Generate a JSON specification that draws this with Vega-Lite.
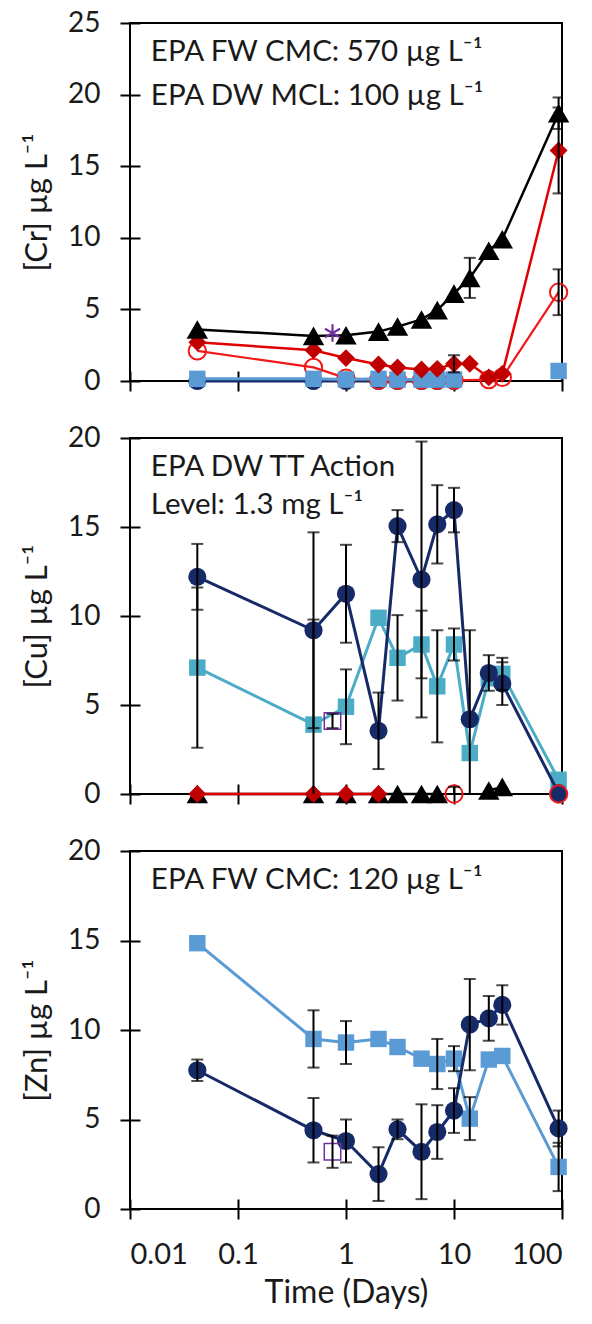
{
  "$schema": "https://vega.github.io/schema/vega-lite/v6.json",
  "padding": {"left": 20, "top": 8, "right": 5, "bottom": 5},
  "background": "white",
  "config": {
    "font": "Lato",
    "view": {"stroke": "#000", "strokeWidth": 2},
    "axis": {
      "domain": false, "grid": false, "ticks": true,
      "tickColor": "#000", "tickWidth": 2, "tickSize": 20, "offset": -10,
      "labelFont": "Lato", "labelFontSize": 28, "labelColor": "#1a1a1a",
      "titleFont": "Lato", "titleFontSize": 31, "titleFontWeight": "normal", "titleColor": "#1a1a1a"
    },
    "axisX": {"labelPadding": 21, "titlePadding": 8, "labelFontSize": 29, "titleFontSize": 32},
    "axisY": {"labelPadding": 20, "titlePadding": 14},
    "text": {"font": "Lato", "fontSize": 29.5, "color": "#1a1a1a", "align": "left", "baseline": "middle"}
  },
  "datasets": {
    "Cr": [
      {"s": "tri", "t": 0.042, "v": 3.6}, {"s": "tri", "t": 0.5, "v": 3.15}, {"s": "tri", "t": 1, "v": 3.2},
      {"s": "tri", "t": 2, "v": 3.45}, {"s": "tri", "t": 3, "v": 3.8}, {"s": "tri", "t": 5, "v": 4.3},
      {"s": "tri", "t": 7, "v": 4.95}, {"s": "tri", "t": 10, "v": 6.1}, {"s": "tri", "t": 14, "v": 7.2, "e": 1.4},
      {"s": "tri", "t": 21, "v": 9.1}, {"s": "tri", "t": 28, "v": 9.9}, {"s": "tri", "t": 93, "v": 18.7, "e": 1.1},
      {"s": "dia", "t": 0.042, "v": 2.7}, {"s": "dia", "t": 0.5, "v": 2.15}, {"s": "dia", "t": 1, "v": 1.6},
      {"s": "dia", "t": 2, "v": 1.15}, {"s": "dia", "t": 3, "v": 0.95}, {"s": "dia", "t": 5, "v": 0.8},
      {"s": "dia", "t": 7, "v": 0.85}, {"s": "dia", "t": 10, "v": 1.2, "e": 0.6}, {"s": "dia", "t": 14, "v": 1.2},
      {"s": "dia", "t": 21, "v": 0.25}, {"s": "dia", "t": 28, "v": 0.5}, {"s": "dia", "t": 93, "v": 16.1, "e": 3.0},
      {"s": "ocirc", "t": 0.042, "v": 2.1}, {"s": "ocirc", "t": 0.5, "v": 0.95}, {"s": "ocirc", "t": 1, "v": 0.2},
      {"s": "ocirc", "t": 2, "v": 0.05}, {"s": "ocirc", "t": 3, "v": 0.05}, {"s": "ocirc", "t": 5, "v": 0.05},
      {"s": "ocirc", "t": 7, "v": 0.05}, {"s": "ocirc", "t": 10, "v": 0.05}, {"s": "ocirc", "t": 21, "v": 0.1},
      {"s": "ocirc", "t": 28, "v": 0.25}, {"s": "ocirc", "t": 93, "v": 6.2, "e": 1.6},
      {"s": "circ", "t": 0.042, "v": 0.0}, {"s": "circ", "t": 0.5, "v": 0.0}, {"s": "circ", "t": 1, "v": 0.0},
      {"s": "circ", "t": 2, "v": 0.0}, {"s": "circ", "t": 3, "v": 0.0}, {"s": "circ", "t": 5, "v": 0.0},
      {"s": "circ", "t": 7, "v": 0.0}, {"s": "circ", "t": 10, "v": 0.0},
      {"s": "sq", "t": 0.042, "v": 0.15}, {"s": "sq", "t": 0.5, "v": 0.15}, {"s": "sq", "t": 1, "v": 0.1},
      {"s": "sq", "t": 2, "v": 0.15}, {"s": "sq", "t": 3, "v": 0.1}, {"s": "sq", "t": 5, "v": 0.1},
      {"s": "sq", "t": 7, "v": 0.1}, {"s": "sq", "t": 10, "v": 0.1}, {"s": "sq", "t": 14, "v": null},
      {"s": "sq", "t": 21, "v": null}, {"s": "sq", "t": 28, "v": null}, {"s": "sq", "t": 93, "v": 0.7},
      {"s": "ref", "t": 0.75, "v": 3.35}
    ],
    "Cu": [
      {"s": "circ", "t": 0.042, "v": 12.2, "e": 1.85}, {"s": "circ", "t": 0.5, "v": 9.2, "e": 5.5},
      {"s": "circ", "t": 1, "v": 11.25, "e": 2.75}, {"s": "circ", "t": 2, "v": 3.55, "e": 2.15},
      {"s": "circ", "t": 3, "v": 15.05, "e": 0.9}, {"s": "circ", "t": 5, "v": 12.05, "e": 7.75},
      {"s": "circ", "t": 7, "v": 15.15, "e": 2.2}, {"s": "circ", "t": 10, "v": 15.95, "e": 1.25},
      {"s": "circ", "t": 14, "v": 4.2, "e": 5.0}, {"s": "circ", "t": 21, "v": 6.8, "e": 1.0},
      {"s": "circ", "t": 28, "v": 6.2, "e": 1.2}, {"s": "circ", "t": 93, "v": 0.05},
      {"s": "sq", "t": 0.042, "v": 7.1, "e": 4.5}, {"s": "sq", "t": 0.5, "v": 3.9, "e": 5.9},
      {"s": "sq", "t": 1, "v": 4.9, "e": 2.1}, {"s": "sq", "t": 2, "v": 9.9},
      {"s": "sq", "t": 3, "v": 7.65, "e": 2.4}, {"s": "sq", "t": 5, "v": 8.4, "e": 1.9},
      {"s": "sq", "t": 7, "v": 6.05, "e": 3.15}, {"s": "sq", "t": 10, "v": 8.4, "e": 0.9},
      {"s": "sq", "t": 14, "v": 2.3}, {"s": "sq", "t": 21, "v": 6.5},
      {"s": "sq", "t": 28, "v": 6.75, "e": 0.9}, {"s": "sq", "t": 93, "v": 0.8},
      {"s": "tri", "t": 0.042, "v": 0}, {"s": "tri", "t": 0.5, "v": 0}, {"s": "tri", "t": 1, "v": 0},
      {"s": "tri", "t": 2, "v": 0}, {"s": "tri", "t": 3, "v": 0}, {"s": "tri", "t": 5, "v": 0},
      {"s": "tri", "t": 7, "v": 0}, {"s": "tri", "t": 10, "v": null}, {"s": "tri", "t": 14, "v": null},
      {"s": "tri", "t": 21, "v": 0.2}, {"s": "tri", "t": 28, "v": 0.4},
      {"s": "dia", "t": 0.042, "v": 0}, {"s": "dia", "t": 0.5, "v": 0}, {"s": "dia", "t": 1, "v": 0},
      {"s": "dia", "t": 2, "v": 0},
      {"s": "ocirc", "t": 10, "v": 0, "e": 0.4}, {"s": "ocirc", "t": 14, "v": null},
      {"s": "ocirc", "t": 93, "v": 0},
      {"s": "ref", "t": 0.75, "v": 4.1, "e": 0.4}
    ],
    "Zn": [
      {"s": "sq", "t": 0.042, "v": 14.85}, {"s": "sq", "t": 0.5, "v": 9.5, "e": 1.6},
      {"s": "sq", "t": 1, "v": 9.3, "e": 1.2}, {"s": "sq", "t": 2, "v": 9.5},
      {"s": "sq", "t": 3, "v": 9.05}, {"s": "sq", "t": 5, "v": 8.4},
      {"s": "sq", "t": 7, "v": 8.1, "e": 1.4}, {"s": "sq", "t": 10, "v": 8.4, "e": 0.7},
      {"s": "sq", "t": 14, "v": 5.05, "e": 1.2}, {"s": "sq", "t": 21, "v": 8.35},
      {"s": "sq", "t": 28, "v": 8.55}, {"s": "sq", "t": 93, "v": 2.35, "e": 1.35},
      {"s": "circ", "t": 0.042, "v": 7.75, "e": 0.6}, {"s": "circ", "t": 0.5, "v": 4.4, "e": 1.8},
      {"s": "circ", "t": 1, "v": 3.8, "e": 1.2}, {"s": "circ", "t": 2, "v": 1.95, "e": 1.5},
      {"s": "circ", "t": 3, "v": 4.45, "e": 0.55}, {"s": "circ", "t": 5, "v": 3.2, "e": 2.65},
      {"s": "circ", "t": 7, "v": 4.3, "e": 1.5}, {"s": "circ", "t": 10, "v": 5.5, "e": 1.25},
      {"s": "circ", "t": 14, "v": 10.3, "e": 2.55}, {"s": "circ", "t": 21, "v": 10.65, "e": 1.25},
      {"s": "circ", "t": 28, "v": 11.4, "e": 1.1}, {"s": "circ", "t": 93, "v": 4.5, "e": 1.0},
      {"s": "ref", "t": 0.75, "v": 3.2, "e": 0.9}
    ]
  },
  "bounds": "flush",
  "spacing": 57,
  "vconcat": [
    {
      "width": 432, "height": 358,
      "layer": [
        {
          "data": {"name": "Cr"},
          "encoding": {
            "x": {"field": "t", "type": "quantitative",
                  "scale": {"type": "log", "domain": [0.01, 100], "nice": false},
                  "axis": {"values": [0.01, 0.1, 1, 10, 100], "labels": false, "title": null}},
            "y": {"field": "v", "type": "quantitative",
                  "scale": {"domain": [0, 25], "nice": false, "zero": false},
                  "axis": {"values": [0, 5, 10, 15, 20, 25], "title": "[Cr] µg L⁻¹"}}
          },
          "layer": [
            {"transform": [{"filter": "datum.s == 'circ'"}],
             "mark": {"type": "line", "color": "#172A68", "strokeWidth": 3, "invalid": "break-paths-filter-domains",
                      "point": {"shape": "circle", "filled": true, "size": 330, "color": "#172A68", "opacity": 1}}},
            {"transform": [{"filter": "datum.s == 'ocirc'"}],
             "mark": {"type": "line", "color": "#F01818", "strokeWidth": 2.2, "invalid": "break-paths-filter-domains",
                      "point": {"shape": "circle", "filled": false, "size": 300, "color": "#F01818", "strokeWidth": 2, "opacity": 1}}},
            {"transform": [{"filter": "datum.s == 'sq'"}],
             "mark": {"type": "line", "color": "#5B9BD5", "strokeWidth": 3, "invalid": "break-paths-filter-domains",
                      "point": {"shape": "square", "filled": true, "size": 270, "color": "#5B9BD5", "opacity": 1}}},
            {"transform": [{"filter": "datum.s == 'dia'"}],
             "mark": {"type": "line", "color": "#E00000", "strokeWidth": 2.5, "invalid": "break-paths-filter-domains",
                      "point": {"shape": "diamond", "filled": true, "size": 320, "color": "#C00000", "opacity": 1}}},
            {"transform": [{"filter": "datum.s == 'tri'"}],
             "mark": {"type": "line", "color": "#000", "strokeWidth": 2.5, "invalid": "break-paths-filter-domains",
                      "point": {"shape": "triangle-up", "filled": true, "size": 460, "color": "#000", "opacity": 1}}},
            {"transform": [{"filter": "datum.s == 'ref'"}],
             "mark": {"type": "point", "shape": "M0,-1L0,1M-0.87,-0.5L0.87,0.5M-0.87,0.5L0.87,-0.5",
                      "filled": false, "size": 300, "color": "#7030A0", "strokeWidth": 2.2, "opacity": 1}},
            {"transform": [{"filter": "datum.e > 0"}],
             "mark": {"type": "errorbar", "color": "#000", "clip": true, "thickness": 2, "ticks": {"size": 12, "thickness": 2}},
             "encoding": {"yError": {"field": "e"}}}
          ]
        },
        {"data": {"values": [{"label": "EPA FW CMC: 570 µg L⁻¹"}]},
         "mark": {"type": "text"},
         "encoding": {
           "x": {"datum": 0.0156, "type": "quantitative", "scale": {"type": "log", "domain": [0.01, 100], "nice": false}},
           "y": {"datum": 23.0, "type": "quantitative", "scale": {"domain": [0, 25], "nice": false, "zero": false}},
           "text": {"field": "label"}}},
        {"data": {"values": [{"label": "EPA DW MCL: 100 µg L⁻¹"}]},
         "mark": {"type": "text"},
         "encoding": {
           "x": {"datum": 0.0156, "type": "quantitative", "scale": {"type": "log", "domain": [0.01, 100], "nice": false}},
           "y": {"datum": 19.9, "type": "quantitative", "scale": {"domain": [0, 25], "nice": false, "zero": false}},
           "text": {"field": "label"}}}
      ]
    },
    {
      "width": 432, "height": 356,
      "layer": [
        {
          "data": {"name": "Cu"},
          "encoding": {
            "x": {"field": "t", "type": "quantitative",
                  "scale": {"type": "log", "domain": [0.01, 100], "nice": false},
                  "axis": {"values": [0.01, 0.1, 1, 10, 100], "labels": false, "title": null}},
            "y": {"field": "v", "type": "quantitative",
                  "scale": {"domain": [0, 20], "nice": false, "zero": false},
                  "axis": {"values": [0, 5, 10, 15, 20], "title": "[Cu] µg L⁻¹"}}
          },
          "layer": [
            {"transform": [{"filter": "datum.s == 'sq'"}],
             "mark": {"type": "line", "color": "#4BACC6", "strokeWidth": 3, "invalid": "break-paths-filter-domains",
                      "point": {"shape": "square", "filled": true, "size": 270, "color": "#4BACC6", "opacity": 1}}},
            {"transform": [{"filter": "datum.s == 'circ'"}],
             "mark": {"type": "line", "color": "#172A68", "strokeWidth": 3, "invalid": "break-paths-filter-domains",
                      "point": {"shape": "circle", "filled": true, "size": 330, "color": "#172A68", "opacity": 1}}},
            {"transform": [{"filter": "datum.s == 'tri'"}],
             "mark": {"type": "line", "color": "#000", "strokeWidth": 2.5, "invalid": "break-paths-filter-domains",
                      "point": {"shape": "triangle-up", "filled": true, "size": 460, "color": "#000", "opacity": 1}}},
            {"transform": [{"filter": "datum.s == 'dia'"}],
             "mark": {"type": "line", "color": "#E00000", "strokeWidth": 2.5, "invalid": "break-paths-filter-domains",
                      "point": {"shape": "diamond", "filled": true, "size": 320, "color": "#C00000", "opacity": 1}}},
            {"transform": [{"filter": "datum.s == 'ocirc'"}],
             "mark": {"type": "line", "color": "#F01818", "strokeWidth": 2.2, "invalid": "break-paths-filter-domains",
                      "point": {"shape": "circle", "filled": false, "size": 300, "color": "#F01818", "strokeWidth": 2, "opacity": 1}}},
            {"transform": [{"filter": "datum.s == 'ref'"}],
             "mark": {"type": "point", "shape": "square", "filled": false, "size": 270, "color": "#7030A0", "strokeWidth": 1.5, "opacity": 1}},
            {"transform": [{"filter": "datum.e > 0"}],
             "mark": {"type": "errorbar", "color": "#000", "clip": true, "thickness": 2, "ticks": {"size": 12, "thickness": 2}},
             "encoding": {"yError": {"field": "e"}}}
          ]
        },
        {"data": {"values": [{"label": "EPA DW TT Action"}]},
         "mark": {"type": "text"},
         "encoding": {
           "x": {"datum": 0.0156, "type": "quantitative", "scale": {"type": "log", "domain": [0.01, 100], "nice": false}},
           "y": {"datum": 18.37, "type": "quantitative", "scale": {"domain": [0, 20], "nice": false, "zero": false}},
           "text": {"field": "label"}}},
        {"data": {"values": [{"label": "Level: 1.3 mg L⁻¹"}]},
         "mark": {"type": "text"},
         "encoding": {
           "x": {"datum": 0.0156, "type": "quantitative", "scale": {"type": "log", "domain": [0.01, 100], "nice": false}},
           "y": {"datum": 16.23, "type": "quantitative", "scale": {"domain": [0, 20], "nice": false, "zero": false}},
           "text": {"field": "label"}}}
      ]
    },
    {
      "width": 432, "height": 358,
      "layer": [
        {
          "data": {"name": "Zn"},
          "encoding": {
            "x": {"field": "t", "type": "quantitative",
                  "scale": {"type": "log", "domain": [0.01, 100], "nice": false},
                  "axis": {"values": [0.01, 0.1, 1, 10, 100], "format": "~g", "title": "Time (Days)"}},
            "y": {"field": "v", "type": "quantitative",
                  "scale": {"domain": [0, 20], "nice": false, "zero": false},
                  "axis": {"values": [0, 5, 10, 15, 20], "title": "[Zn] µg L⁻¹"}}
          },
          "layer": [
            {"transform": [{"filter": "datum.s == 'sq'"}],
             "mark": {"type": "line", "color": "#5B9BD5", "strokeWidth": 3, "invalid": "break-paths-filter-domains",
                      "point": {"shape": "square", "filled": true, "size": 270, "color": "#5B9BD5", "opacity": 1}}},
            {"transform": [{"filter": "datum.s == 'circ'"}],
             "mark": {"type": "line", "color": "#172A68", "strokeWidth": 3, "invalid": "break-paths-filter-domains",
                      "point": {"shape": "circle", "filled": true, "size": 330, "color": "#172A68", "opacity": 1}}},
            {"transform": [{"filter": "datum.s == 'ref'"}],
             "mark": {"type": "point", "shape": "square", "filled": false, "size": 270, "color": "#7030A0", "strokeWidth": 1.5, "opacity": 1}},
            {"transform": [{"filter": "datum.e > 0"}],
             "mark": {"type": "errorbar", "color": "#000", "clip": true, "thickness": 2, "ticks": {"size": 12, "thickness": 2}},
             "encoding": {"yError": {"field": "e"}}}
          ]
        },
        {"data": {"values": [{"label": "EPA FW CMC: 120 µg L⁻¹"}]},
         "mark": {"type": "text"},
         "encoding": {
           "x": {"datum": 0.0156, "type": "quantitative", "scale": {"type": "log", "domain": [0.01, 100], "nice": false}},
           "y": {"datum": 18.4, "type": "quantitative", "scale": {"domain": [0, 20], "nice": false, "zero": false}},
           "text": {"field": "label"}}}
      ]
    }
  ]
}
